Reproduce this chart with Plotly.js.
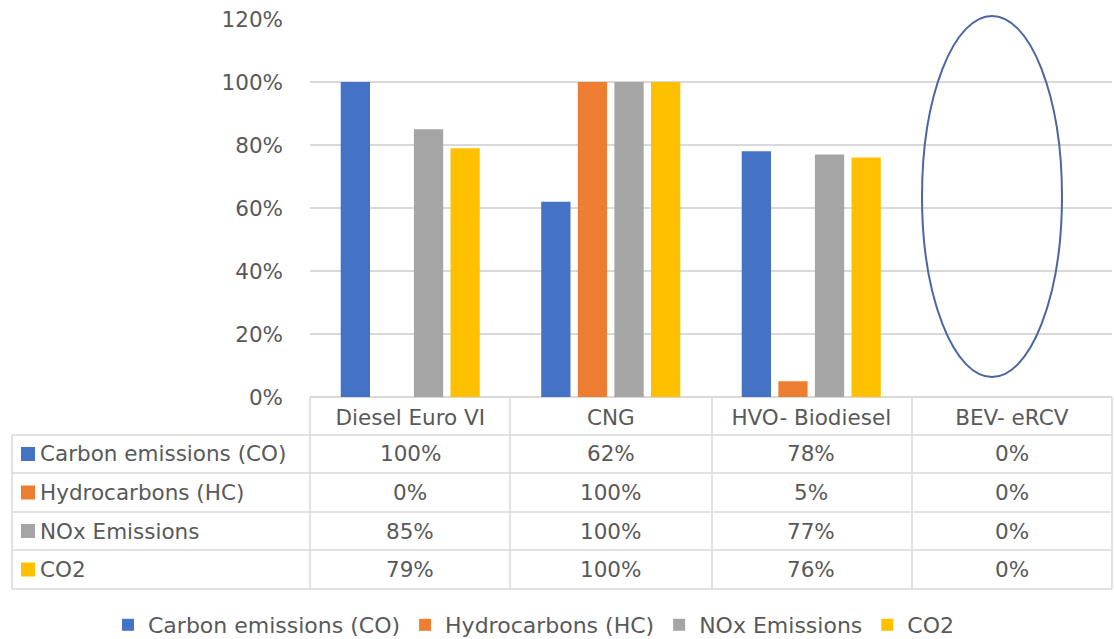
<!DOCTYPE html>
<html>
<head>
<meta charset="utf-8">
<script src="https://cdn.plot.ly/plotly-3.0.1.min.js"></script>
<style>html,body{margin:0;padding:0;background:#fff;}#chart{width:1114px;height:639px;}</style>
</head>
<body>
<div id="chart"></div>
<script>
const categories = ["Diesel Euro VI", "CNG", "HVO- Biodiesel", "BEV- eRCV"];
const seriesNames = ["Carbon emissions (CO)", "Hydrocarbons (HC)", "NOx Emissions", "CO2"];
const coValues = [100, 62, 78, 0];
const hcValues = [0, 100, 5, 0];
const noxValues = [85, 100, 77, 0];
const co2Values = [79, 100, 76, 0];
const yTicks = [0, 20, 40, 60, 80, 100, 120];

const seriesValues = [coValues, hcValues, noxValues, co2Values];
const colors = ["#4472c4", "#ed7d31", "#a5a5a5", "#ffc000"];

const W = 1114, H = 639, L = 310, R = 2, T = 19, B = 242;
const plotW = W - L - R, plotH = H - T - B;
const fx = px => (px - L) / plotW;
const fy = py => (H - B - py) / plotH;

const FONT = "DejaVu Sans";
const FS = 21.5;
const TXT = "#595959";
const GRID = "#d9d9d9";

const traces = seriesNames.map((n, i) => ({
  type: "bar",
  name: n,
  x: categories,
  y: seriesValues[i],
  marker: {color: colors[i]},
  hoverinfo: "none"
}));

// table geometry (pixels)
const tableLeft = 12, tableRight = 1112;
const rowLines = [435, 473, 512, 550, 589];
const colLines = [310, 510, 712, 912, 1112];

const shapes = [];
const annotations = [];
rowLines.forEach(py => shapes.push({type: "line", xref: "paper", yref: "paper",
  x0: fx(tableLeft), x1: fx(tableRight), y0: fy(py), y1: fy(py), line: {color: GRID, width: 1.5}}));
shapes.push({type: "line", xref: "paper", yref: "paper", x0: fx(tableLeft), x1: fx(tableLeft),
  y0: fy(435), y1: fy(589), line: {color: GRID, width: 1.5}});
colLines.forEach(px => shapes.push({type: "line", xref: "paper", yref: "paper",
  x0: fx(px), x1: fx(px), y0: fy(397), y1: fy(589), line: {color: GRID, width: 1.5}}));

seriesNames.forEach((n, i) => {
  const top = rowLines[i], bot = rowLines[i + 1];
  const mid = (top + bot) / 2;
  shapes.push({type: "rect", xref: "paper", yref: "paper",
    x0: fx(21), x1: fx(35), y0: fy(mid + 7), y1: fy(mid - 7),
    fillcolor: colors[i], line: {width: 0}});
  annotations.push({xref: "paper", yref: "paper", x: fx(38), y: fy(mid), xanchor: "left", yanchor: "middle",
    text: n, showarrow: false, font: {family: FONT, size: FS, color: TXT}});
  categories.forEach((c, j) => {
    annotations.push({xref: "x", yref: "paper", x: c, y: fy(mid), xanchor: "center", yanchor: "middle",
      text: seriesValues[i][j] + "%", showarrow: false, font: {family: FONT, size: FS, color: TXT}});
  });
});

// ellipse highlighting BEV column (drawn in paper space so it is not clipped)
shapes.push({type: "circle", xref: "paper", yref: "paper", x0: fx(922), x1: fx(1062), y0: fy(377), y1: fy(16),
  line: {color: "#4a67a0", width: 2}});

const layout = {
  width: W, height: H,
  margin: {l: L, r: R, t: T, b: B, pad: 0, autoexpand: false},
  paper_bgcolor: "#ffffff", plot_bgcolor: "#ffffff",
  font: {family: FONT, size: FS, color: TXT},
  barmode: "group", bargap: 0.27, bargroupgap: 0.2,
  showlegend: true,
  legend: {orientation: "h", xref: "paper", yref: "paper", x: fx(108), y: fy(625),
    xanchor: "left", yanchor: "middle", font: {family: FONT, size: 22, color: TXT},
    traceorder: "normal", itemwidth: 30, bgcolor: "rgba(0,0,0,0)"},
  xaxis: {type: "category", range: [-0.5, 3.5], showgrid: false, showline: false, zeroline: false,
    ticks: "", ticklabelstandoff: 5, tickfont: {family: FONT, size: FS, color: TXT}, fixedrange: true, automargin: false},
  yaxis: {range: [0, 120], tickvals: yTicks, ticktext: yTicks.map(v => v + "%"),
    showgrid: true, gridcolor: GRID, gridwidth: 1.5, zeroline: true, zerolinecolor: GRID, zerolinewidth: 1.5,
    showline: false, ticks: "", ticklabelstandoff: 26, tickfont: {family: FONT, size: FS, color: TXT}, fixedrange: true, automargin: false},
  shapes: shapes,
  annotations: annotations
};

Plotly.newPlot("chart", traces, layout, {displayModeBar: false, staticPlot: true});
</script>
</body>
</html>
